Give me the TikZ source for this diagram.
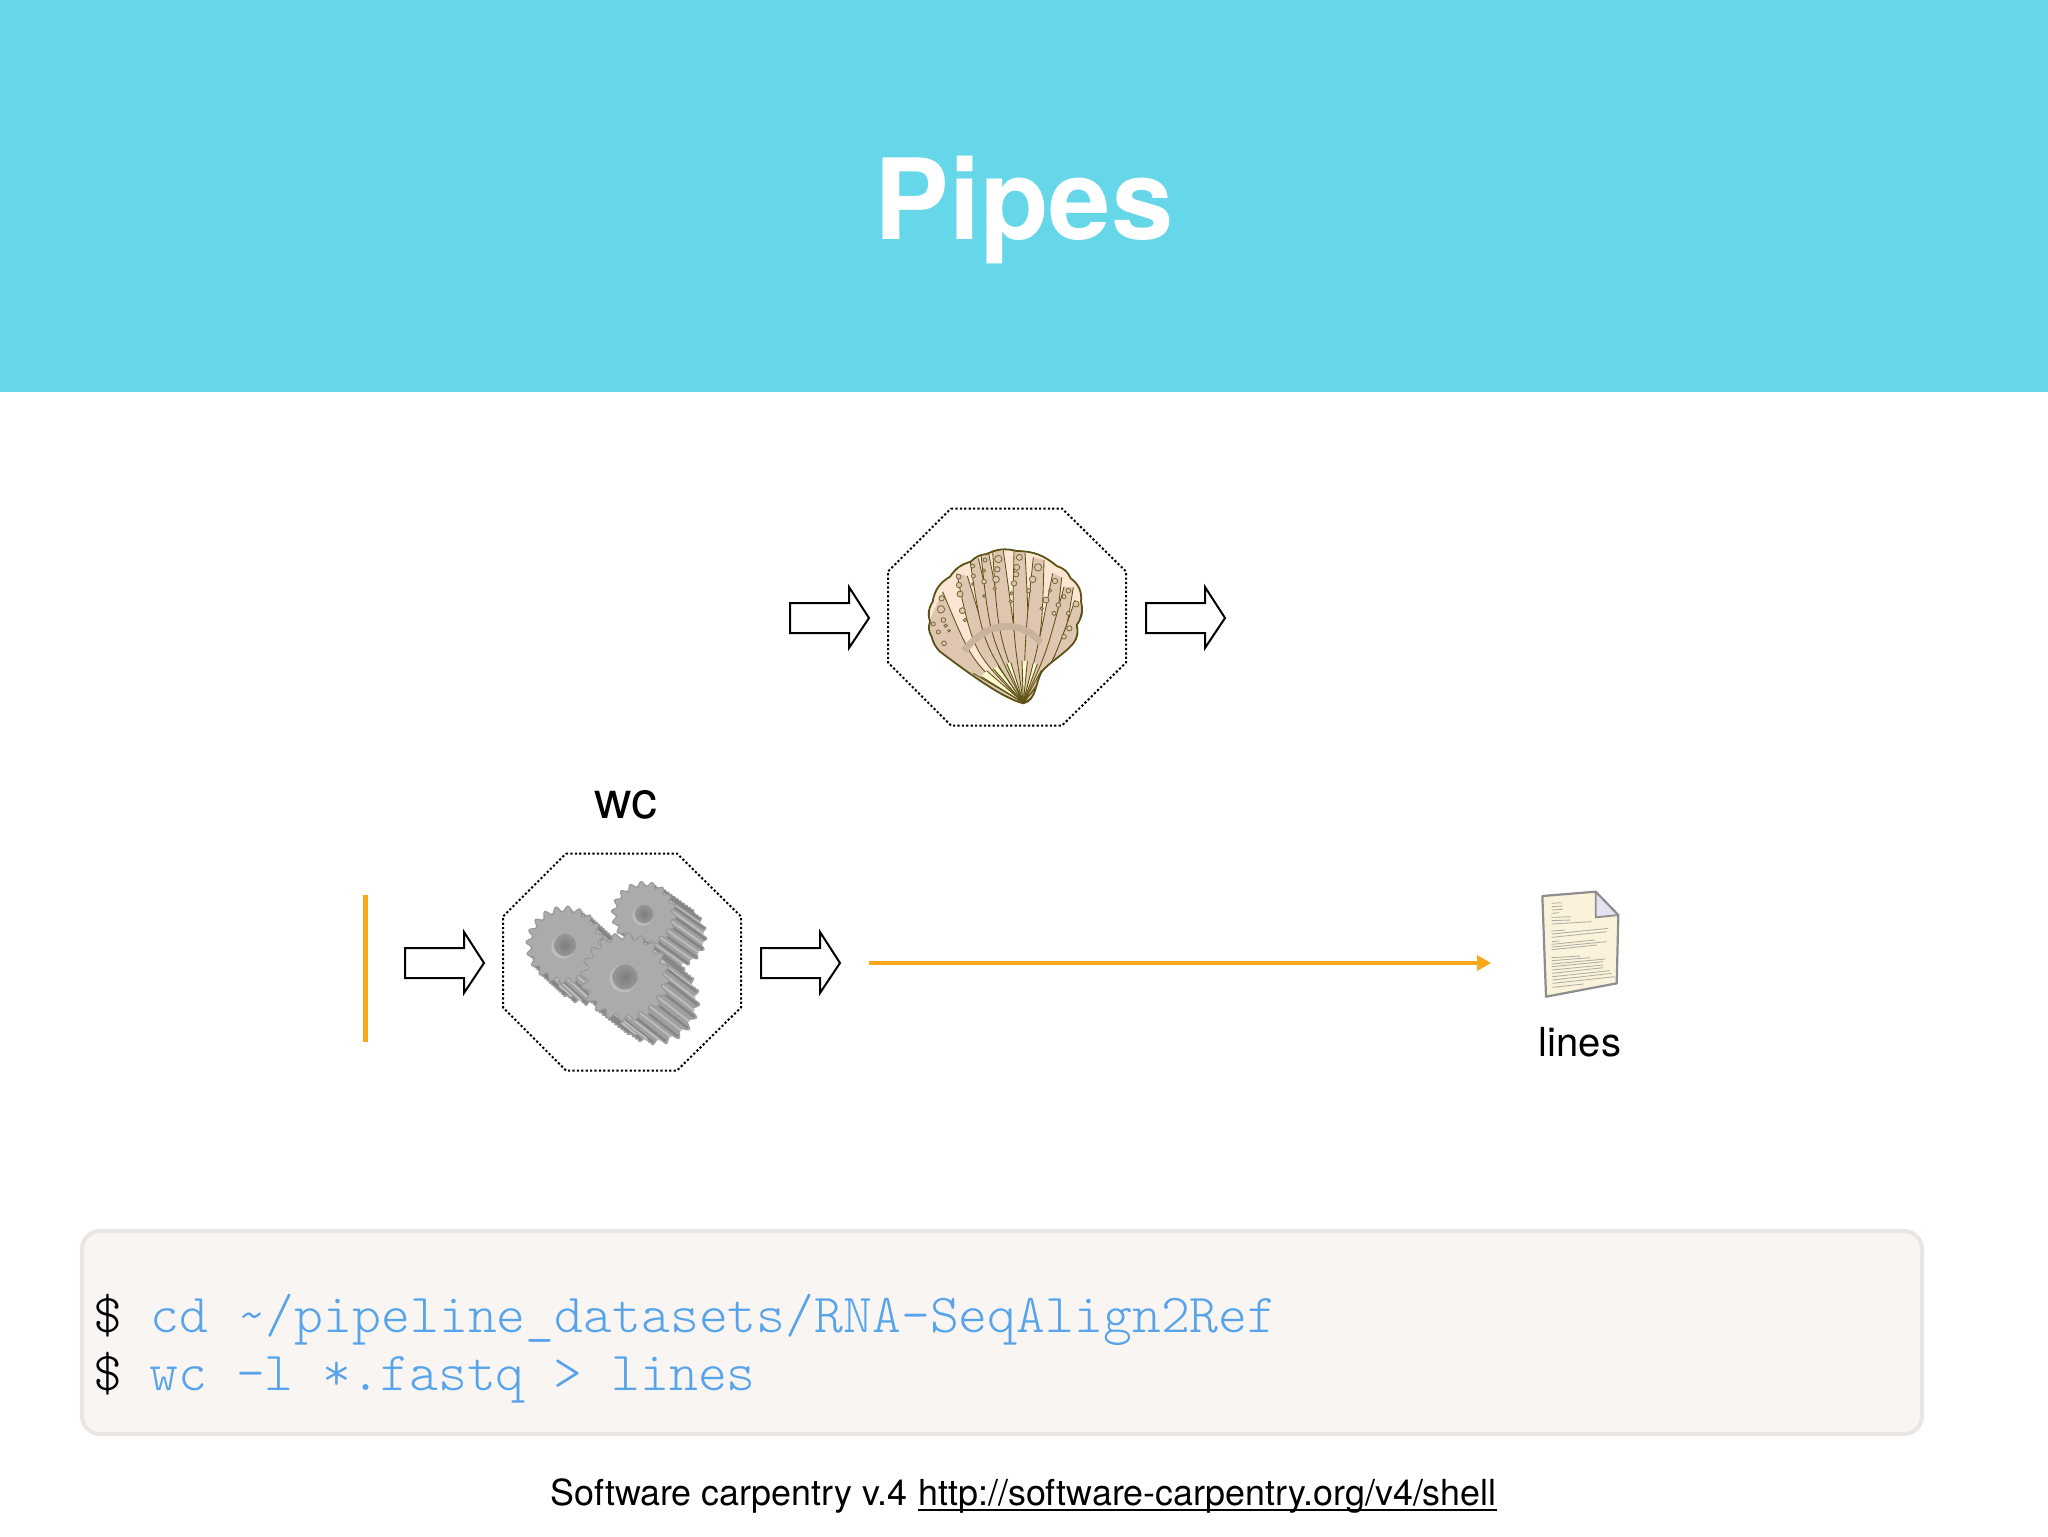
\documentclass[tikz,border=0pt]{standalone}
\usepackage{fontspec}
\setmainfont{TeX Gyre Heros}
\setmonofont{Latin Modern Mono Light}
\usetikzlibrary{arrows.meta}
\definecolor{band}{HTML}{66D7E9}
\definecolor{codebg}{HTML}{F8F5F2}
\definecolor{codeedge}{HTML}{EAE6E3}
\definecolor{codeblue}{HTML}{57A4EA}
\definecolor{pipeorange}{HTML}{FBA81C}
\definecolor{shellbase}{HTML}{FBE5D3}
\definecolor{shelltan}{HTML}{DFC6B0}
\definecolor{shellline}{HTML}{5C5216}
\definecolor{shellpale}{HTML}{FDF9CF}
\definecolor{docfill}{HTML}{FAF2DA}
\definecolor{docedge}{HTML}{8E8E8E}
\definecolor{docfold}{HTML}{E2E2F0}
\definecolor{gearface}{HTML}{ABABAB}
\definecolor{gearside}{HTML}{A0A0A0}
\definecolor{geardark}{HTML}{858585}
\definecolor{gearlight}{HTML}{BDBDBD}
\definecolor{gearhole}{HTML}{7E7E7E}
\definecolor{gearrim}{HTML}{979797}
\tikzset{
  x=0.5pt,y=-0.5pt,
  octa/.style={draw=black,line width=1pt,dash pattern=on 1.1pt off 1.1pt},
  hollow/.style={draw=black,line width=1pt,fill=white,miter limit=4},
  pipeline/.style={draw=pipeorange,line width=2.2pt},
  label/.style={font=\fontsize{20}{20}\selectfont,inner sep=0pt,anchor=base},
  code/.style={font=\fontsize{27.5}{27.5}\selectfont\ttfamily,inner sep=0pt,anchor=base west},
  foot/.style={font=\fontsize{17.92}{17.92}\selectfont,inner sep=0pt,anchor=base west}
}
\newcommand{\octagonat}[2]{%
  \draw[octa,shift={(#1,#2)}] (-56,-109) -- (55,-109) -- (119,-46) -- (119,45) -- (55,108) -- (-56,108) -- (-119,45) -- (-119,-46) -- cycle;}
\newcommand{\blockarrow}[2]{%
  \draw[hollow,shift={(#1,#2)}] (1,-15) -- (60,-15) -- (60,-31) -- (80,0) -- (60,30) -- (60,15) -- (1,15) -- cycle;}
\newcommand{\gearshape}[2]{plot[domain=0:360,samples=241] (\x:{#1*(1+0.085*sin(#2*\x))})}
\newcommand{\geardraw}[6]{% cx cy r ox oy teeth
  \begin{scope}[shift={(#1,#2)}]
    \foreach \t in {1,0.9,...,0.0}{
      \fill[gearside,shift={(\t*#4,\t*#5)}] \gearshape{#3}{#6} -- cycle;
    }
    \foreach \k in {0,...,#6}{
      \pgfmathsetmacro{\ang}{(\k+0.25)*360/#6}
      \draw[geardark,line width=1.2pt,line cap=round] (\ang:#3*1.0) -- ++(#4,#5);
      \pgfmathsetmacro{\angb}{(\k+0.75)*360/#6}
      \draw[gearlight,line width=0.9pt,line cap=round] (\angb:#3*0.95) -- ++(#4,#5);
    }
    \fill[gearface,draw=gearrim,line width=0.5pt] \gearshape{#3}{#6} -- cycle;
    \fill[gearlight] (-1.5,1.5) circle[radius=#3*0.34];
    \shade[inner color=gearhole,outer color=gearrim] (0,0) circle[radius=#3*0.31];
  \end{scope}}
\begin{document}
\begin{tikzpicture}
\useasboundingbox (0,0) rectangle (2048,1536);
\fill[white] (0,0) rectangle (2048,1536);
\fill[band] (0,0) rectangle (2048,392);
\node[font=\fontsize{56}{56}\selectfont\bfseries,text=white,inner sep=0pt,anchor=base] (title) at (1024,239) {Pipes};

% upper process
\octagonat{1007}{617.5}
\blockarrow{789}{618}
\blockarrow{1145}{618}

% shell
\begin{scope}[shift={(760,480)},x=0.16667pt,y=-0.16667pt]
  \def\shelloutline{(790,670) .. controls (730,655) and (640,590) .. (540,515) to[bend left=15] (515,470) to[bend left=25] (510,425) to[bend left=25] (518,365) to[bend left=25] (570,290) to[bend left=20] (632,245) to[bend left=20] (680,222) to[bend left=20] (770,213) to[bend left=20] (890,258) to[bend left=25] (932,295) to[bend left=30] (963,365) to[bend left=25] (950,435) to[bend left=25] (940,490) .. controls (910,525) and (870,545) .. (845,575) .. controls (825,610) and (830,660) .. (790,670)}
  \fill[shellbase] \shelloutline -- cycle;
  \begin{scope}
    \clip \shelloutline -- cycle;
    \foreach \ax/\ay/\bx/\by in {500/440/548/335, 590/280/622/288, 630/240/655/235, 662/215/686/220, 698/215/730/212, 762/212/795/218, 820/232/852/240, 878/280/905/292, 912/320/940/322, 945/360/968/380, 920/435/958/447}{
      \pgfmathsetmacro{\cax}{(790+\ax)/2+(\ax-790)*0.18-14}
      \pgfmathsetmacro{\cay}{(668+\ay)/2+abs(\ax-790)*0.22}
      \pgfmathsetmacro{\cbx}{(790+\bx)/2+(\bx-790)*0.18+14}
      \pgfmathsetmacro{\cby}{(668+\by)/2+abs(\bx-790)*0.22}
      \fill[shelltan] (790,668) .. controls (\cax,\cay) .. (\ax,\ay) -- (\bx,\by) .. controls (\cbx,\cby) .. (790,668) -- cycle;
      \draw[shellline,line width=0.42pt] (790,668) .. controls (\cax,\cay) .. (\ax,\ay);
      \draw[shellline,line width=0.42pt] (790,668) .. controls (\cbx,\cby) .. (\bx,\by);
    }
    \draw[shelltan!90!black,line width=3.4pt] (612,512) .. controls (660,455) and (700,435) .. (760,440) .. controls (790,445) and (820,460) .. (842,488);
    \foreach \ex/\ey/\fx/\fy in {664/590/680/572, 700/566/714/558, 740/550/752/546, 786/542/802/543, 820/548/832/552}{
      \fill[shellpale] (790,668) -- (\ex,\ey) -- (\fx,\fy) -- cycle;
    }
    \foreach \ex/\ey in {640/580, 664/590, 680/572, 700/566, 714/558, 740/550, 752/546, 786/542, 802/543, 820/548, 832/552, 845/570}{
      \draw[shellline,line width=0.45pt] (790,668) -- (\ex,\ey);
    }
    \foreach \cx/\cy/\rr in {545/355/8,543/388/11,550/420/7,557/437/5,567/452/4,520/432/6,535/456/6,552/490/7,596/290/7,597/315/8,600/342/9,607/392/9,615/420/5,638/258/6,640/288/6,638/312/4,675/240/6,672/272/5,672/305/7,672/348/4,715/237/11,712/268/8,708/298/10,704/326/5,778/232/9,770/262/9,768/283/8,762/310/8,754/340/5,752/365/5,834/262/11,818/298/10,806/332/6,885/303/8,870/332/5,858/360/9,845/385/5,925/332/7,912/350/6,895/375/7,882/400/6,948/372/9,925/400/6,928/445/8,912/470/7}{
      \draw[shellline!85!white,line width=0.42pt,fill=shelltan] (\cx,\cy) circle[radius=\rr];
    }
  \end{scope}
  \draw[shellline,line width=0.9pt,line join=round] \shelloutline -- cycle;
\end{scope}

% lower process
\node[label,font=\fontsize{26}{26}\selectfont] (wc) at (626,818) {wc};
\octagonat{622}{962.5}
\blockarrow{404}{963}
\blockarrow{760}{963}

% gears
\geardraw{644}{914}{30}{31}{22}{18}
\geardraw{565}{945}{36}{24}{22}{20}
\geardraw{625}{977}{41}{31}{24}{20}

% pipe
\fill[pipeorange] (362.5,895) rectangle (367.5,1042);
\coordinate (pipestart) at (869,963);
\coordinate (pipeend) at (1491,963);
\draw[pipeline,-{Triangle[length=7pt,width=7.5pt]}] (pipestart) -- (pipeend);

% document
\begin{scope}[shift={(1440,860)},x=0.16667pt,y=-0.16667pt]
  \fill[docfill] (307,108) -- (467,95) -- (535,165) -- (530,370) -- (318,410) -- cycle;
  \foreach \xa/\ya/\xb/\yb in {335/130/365/128, 335/140/368/138, 335/150/368/148, 335/160/358/158, 335/172/392/170, 335/182/392/180, 335/192/455/185, 335/213/375/210, 335/222/505/205, 335/232/500/215, 335/245/358/243, 335/253/465/240, 335/261/500/245, 335/269/470/255, 335/293/420/288, 335/302/450/293, 335/312/495/297, 335/320/490/305, 335/330/490/315, 337/340/490/323, 337/350/510/332, 337/360/515/340, 338/370/525/350, 338/382/430/372}{
    \draw[gray!60!docfill,line width=0.42pt] (\xa,\ya) -- (\xb,\yb);
  }
  \fill[docfold] (467,95) -- (535,165) -- (467,172) -- cycle;
  \draw[docedge,line width=1.1pt,line join=round] (307,108) -- (467,95) -- (535,165) -- (530,370) -- (318,410) -- cycle;
  \draw[docedge,line width=0.9pt] (467,95) -- (467,172) -- (535,165);
\end{scope}
\node[label] (lines) at (1580,1056) {lines};

% code box
\draw[fill=codebg,draw=codeedge,line width=2pt,rounded corners=9pt] (82,1231) rectangle (1922,1434);
\node[code,text=black] (prompta) at (93,1332) {\$};
\node[code,text=codeblue] (cmda) at (150,1332) {cd \textasciitilde/pipeline\_datasets/RNA-SeqAlign2Ref};
\node[code,text=black] (promptb) at (93,1390) {\$};
\node[code,text=codeblue] (cmdb) at (149,1390) {wc -l *.fastq > lines};

% footer
\node[foot] (foota) at (550,1505) {Software carpentry v.4};
\node[foot] (footb) at (918,1505) {http://software-carpentry.org/v4/shell};
\draw[black,line width=1pt] ([yshift=-2.4pt]footb.base west) -- ([yshift=-2.4pt]footb.base east);
\end{tikzpicture}
\end{document}
